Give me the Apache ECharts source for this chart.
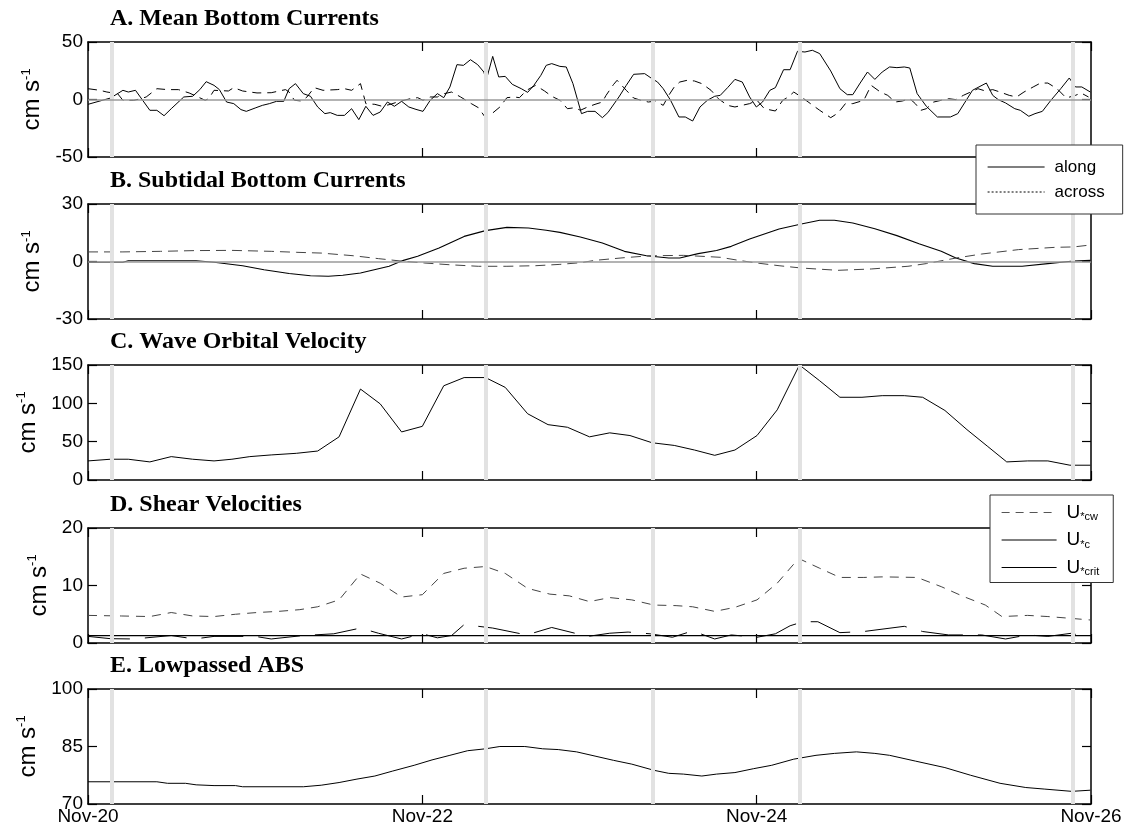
<!DOCTYPE html>
<html><head><meta charset="utf-8">
<script src="https://cdn.jsdelivr.net/npm/echarts@6/dist/echarts.min.js"></script>
<style>html,body{margin:0;padding:0;background:#fff}#c{width:1137px;height:840px}</style>
</head><body><div id="c"></div>
<script>
// ---------- DATA (x = days since Nov-20 00:00) ----------
const xTickDays = [0, 2, 4, 6];
const xTickLabels = ['Nov-20', 'Nov-22', 'Nov-24', 'Nov-26'];
const bandDays = [0.135, 2.385, 3.38, 4.26, 5.89];
const panelTitles = ['A. Mean Bottom Currents', 'B. Subtidal Bottom Currents', 'C. Wave Orbital Velocity', 'D. Shear Velocities', 'E. Lowpassed ABS'];
const yMins = [-50, -30, 0, 0, 70];
const yMaxs = [50, 30, 150, 20, 100];
const yTicksA = [-50, 0, 50];
const yTicksB = [-30, 0, 30];
const yTicksC = [0, 50, 100, 150];
const yTicksD = [0, 10, 20];
const yTicksE = [70, 85, 100];

const alongMean = [[0.000,-4.2],[0.135,1.3],[0.209,8.0],[0.241,6.5],[0.284,8.0],[0.370,-9.4],[0.412,-9.4],[0.455,-14.1],[0.498,-8.0],[0.573,2.2],[0.626,2.8],[0.669,8.6],[0.707,15.5],[0.754,12.3],[0.786,8.6],[0.829,-2.2],[0.872,-3.6],[0.915,-8.8],[0.947,-10.3],[1.000,-7.4],[1.043,-5.1],[1.085,-3.6],[1.128,-1.6],[1.171,-1.6],[1.203,9.4],[1.241,13.8],[1.288,5.1],[1.331,2.8],[1.374,-6.5],[1.417,-12.3],[1.449,-11.4],[1.491,-13.8],[1.534,-13.8],[1.577,-8.0],[1.620,-17.5],[1.662,-5.9],[1.705,-13.8],[1.748,-10.9],[1.791,-2.2],[1.833,-5.9],[1.876,-1.6],[1.919,-6.5],[1.962,-8.6],[2.004,-10.3],[2.047,-0.7],[2.090,5.1],[2.128,1.6],[2.165,10.9],[2.207,30.3],[2.246,29.7],[2.288,34.6],[2.331,30.3],[2.368,23.9],[2.382,16.7],[2.421,37.5],[2.457,19.6],[2.496,20.1],[2.538,13.2],[2.592,9.4],[2.630,6.2],[2.667,12.3],[2.709,21.0],[2.741,29.7],[2.774,31.2],[2.823,28.8],[2.861,28.3],[2.901,13.8],[2.952,-12.3],[2.989,-10.3],[3.033,-10.3],[3.077,-15.8],[3.110,-11.4],[3.176,2.2],[3.220,12.3],[3.264,21.9],[3.330,22.5],[3.374,18.1],[3.407,15.2],[3.441,9.4],[3.485,-0.7],[3.535,-15.2],[3.573,-15.2],[3.617,-18.7],[3.661,-6.5],[3.705,-0.7],[3.749,2.8],[3.782,3.6],[3.826,10.3],[3.870,17.5],[3.914,15.2],[3.958,2.2],[3.998,-6.5],[4.035,-2.2],[4.079,8.0],[4.112,10.3],[4.161,25.9],[4.200,25.9],[4.244,41.9],[4.289,41.3],[4.333,42.8],[4.377,39.9],[4.443,24.8],[4.498,9.4],[4.542,4.2],[4.575,4.2],[4.619,14.3],[4.663,23.9],[4.707,17.5],[4.751,23.9],[4.795,28.3],[4.839,27.7],[4.883,28.3],[4.916,27.4],[4.960,5.1],[5.015,-5.9],[5.081,-15.2],[5.159,-15.2],[5.203,-12.3],[5.247,-2.2],[5.291,8.0],[5.374,14.3],[5.412,3.6],[5.445,-0.1],[5.489,-3.0],[5.544,-8.0],[5.577,-9.4],[5.628,-14.6],[5.665,-12.3],[5.709,-10.3],[5.760,-0.7],[5.819,9.4],[5.870,18.7],[5.907,10.9],[5.945,10.9],[5.996,6.5]];

const acrossMean = [[0.000,9.4],[0.071,8.0],[0.113,6.5],[0.177,5.1],[0.209,-0.7],[0.274,-0.7],[0.316,0.7],[0.348,2.2],[0.412,9.4],[0.476,8.6],[0.541,8.6],[0.605,5.7],[0.637,3.6],[0.701,-0.7],[0.722,0.7],[0.754,8.0],[0.840,7.4],[0.872,10.3],[0.925,7.4],[1.011,5.7],[1.096,5.9],[1.182,8.6],[1.203,6.5],[1.235,-0.7],[1.278,-1.3],[1.310,2.2],[1.353,10.3],[1.406,8.0],[1.491,8.6],[1.534,9.4],[1.577,8.0],[1.630,13.8],[1.662,-3.6],[1.716,-4.2],[1.759,-5.9],[1.801,-4.5],[1.865,-1.6],[1.929,0.7],[1.972,1.6],[2.004,-0.7],[2.047,2.2],[2.090,2.2],[2.132,5.1],[2.175,6.5],[2.229,2.2],[2.293,-3.6],[2.335,-7.1],[2.378,-15.8],[2.421,-11.7],[2.464,-6.5],[2.506,1.6],[2.549,2.2],[2.581,1.6],[2.624,8.0],[2.677,12.3],[2.731,7.4],[2.774,2.8],[2.823,-0.7],[2.868,-8.0],[2.912,-7.1],[2.945,-9.4],[2.989,-6.5],[3.033,-4.2],[3.077,-2.2],[3.099,3.6],[3.143,12.9],[3.165,16.7],[3.220,8.0],[3.264,1.3],[3.308,-0.7],[3.352,-2.2],[3.396,-1.3],[3.441,-5.1],[3.474,3.6],[3.507,10.9],[3.540,15.2],[3.584,16.7],[3.628,16.1],[3.672,13.8],[3.727,8.0],[3.771,0.7],[3.826,-5.1],[3.870,-6.5],[3.958,-3.6],[4.002,-0.7],[4.046,-8.0],[4.112,-10.0],[4.156,-0.7],[4.189,2.2],[4.222,6.5],[4.267,2.2],[4.322,-3.6],[4.377,-9.4],[4.443,-15.8],[4.487,-11.7],[4.531,-3.6],[4.575,-3.6],[4.641,-0.7],[4.685,12.3],[4.740,6.5],[4.784,3.6],[4.828,-2.2],[4.872,-1.3],[4.916,0.7],[4.949,-3.6],[4.982,-9.4],[5.015,-8.0],[5.059,-2.2],[5.104,-0.7],[5.148,0.7],[5.192,-0.1],[5.236,3.6],[5.280,6.5],[5.324,9.4],[5.368,7.4],[5.412,8.6],[5.456,6.5],[5.511,3.6],[5.555,2.2],[5.599,6.5],[5.654,10.9],[5.698,14.3],[5.742,14.3],[5.797,9.4],[5.852,1.3],[5.907,3.6],[5.940,5.7],[5.985,2.2]];

const alongSub = [[0,-0.4],[0.209,-0.4],[0.241,0.4],[0.647,0.4],[0.754,-0.4],[0.925,-2.2],[1.053,-4.3],[1.203,-6.3],[1.331,-7.4],[1.438,-7.7],[1.524,-7.2],[1.630,-6.0],[1.801,-2.5],[1.887,0.6],[1.972,2.7],[2.100,7.0],[2.250,13.1],[2.378,16.1],[2.506,17.8],[2.635,17.5],[2.741,16.3],[2.823,15.2],[2.945,12.8],[3.077,9.7],[3.209,5.3],[3.341,3.0],[3.474,1.8],[3.540,1.8],[3.650,4.1],[3.760,5.7],[3.848,7.9],[3.958,11.7],[4.134,17.0],[4.267,19.6],[4.377,21.5],[4.465,21.5],[4.575,20.1],[4.707,17.1],[4.839,13.5],[4.971,9.3],[5.104,5.3],[5.192,1.8],[5.302,-1.1],[5.412,-2.5],[5.588,-2.5],[5.742,-1.1],[5.896,0.3],[5.996,0.6]];

const acrossSub = [[0,5.0],[0.209,5.0],[0.434,5.3],[0.647,5.7],[0.861,5.8],[1.096,5.3],[1.246,4.8],[1.395,4.4],[1.588,3.0],[1.737,1.5],[1.887,0.1],[2.015,-0.8],[2.165,-1.7],[2.335,-2.5],[2.506,-2.5],[2.677,-2.2],[2.823,-1.5],[2.950,-0.6],[3.033,0.6],[3.209,2.0],[3.363,3.0],[3.562,3.2],[3.782,2.2],[3.892,0.6],[4.002,-0.8],[4.134,-2.2],[4.267,-3.4],[4.487,-4.6],[4.685,-3.9],[4.905,-2.5],[5.015,-1.1],[5.192,1.8],[5.346,3.9],[5.566,6.2],[5.786,7.4],[5.896,7.6],[5.996,8.6]];

const waveOrbital = [[0,24.9],[0.135,27.1],[0.241,27.1],[0.370,23.6],[0.498,30.5],[0.626,27.1],[0.754,24.9],[0.861,27.1],[0.968,30.5],[1.096,32.7],[1.246,34.8],[1.374,37.8],[1.502,56.3],[1.630,118.6],[1.748,99.3],[1.876,62.7],[2.000,70.0],[2.128,122.9],[2.250,133.6],[2.378,133.6],[2.496,120.8],[2.630,86.4],[2.752,72.2],[2.868,68.8],[3.000,56.3],[3.121,61.5],[3.242,58.0],[3.374,48.6],[3.507,45.1],[3.628,39.1],[3.749,32.2],[3.870,39.1],[4.002,58.0],[4.123,91.5],[4.256,150],[4.377,129.4],[4.498,107.9],[4.630,107.9],[4.751,110.0],[4.883,110.0],[4.993,107.9],[5.126,90.7],[5.258,65.7],[5.379,44.3],[5.496,23.6],[5.621,24.9],[5.742,24.9],[5.874,19.3],[5.996,19.3]];

const uStarCW = [[0,4.8],[0.199,4.7],[0.370,4.6],[0.498,5.3],[0.626,4.7],[0.754,4.6],[0.882,5.0],[1.011,5.3],[1.139,5.5],[1.267,5.8],[1.374,6.3],[1.502,7.5],[1.630,12.0],[1.748,10.4],[1.876,8.0],[2.000,8.4],[2.128,12.1],[2.250,13.0],[2.378,13.3],[2.496,12.1],[2.630,9.5],[2.763,8.5],[2.879,8.2],[3.000,7.2],[3.121,7.9],[3.253,7.5],[3.385,6.6],[3.518,6.5],[3.617,6.3],[3.749,5.5],[3.870,6.2],[4.002,7.5],[4.123,10.4],[4.251,14.7],[4.377,13.0],[4.498,11.4],[4.641,11.4],[4.751,11.5],[4.960,11.4],[5.104,9.8],[5.236,8.1],[5.368,6.6],[5.467,4.6],[5.621,4.8],[5.742,4.6],[5.874,4.3],[5.996,4.0]];

const uStarC = [[0,1.15],[0.135,0.75],[0.274,0.7],[0.498,1.3],[0.637,0.7],[0.754,1.15],[1.000,1.15],[1.096,0.7],[1.288,1.3],[1.470,1.6],[1.630,2.6],[1.737,1.7],[1.876,0.7],[2.000,1.6],[2.090,0.9],[2.175,1.3],[2.250,3.2],[2.421,2.6],[2.624,1.4],[2.774,2.7],[2.989,1.15],[3.121,1.7],[3.231,1.9],[3.363,1.6],[3.496,1.0],[3.617,2.1],[3.749,0.7],[3.848,1.4],[4.002,1.0],[4.112,1.6],[4.200,3.0],[4.278,3.7],[4.366,3.7],[4.498,1.8],[4.641,2.0],[4.883,2.9],[4.993,2.0],[5.148,1.4],[5.346,1.4],[5.489,0.7],[5.621,1.4],[5.742,1.15],[5.885,1.7],[5.996,0.75]];

const uStarCrit = [[0,1.3],[6,1.3]];

const absLow = [[0,75.8],[0.412,75.8],[0.476,75.4],[0.583,75.4],[0.647,75.0],[0.754,74.8],[0.882,74.8],[0.925,74.5],[1.288,74.5],[1.395,74.9],[1.502,75.6],[1.609,76.5],[1.716,77.3],[1.823,78.6],[1.951,80.1],[2.058,81.5],[2.165,82.7],[2.271,83.9],[2.378,84.4],[2.464,85.0],[2.613,85.0],[2.720,84.4],[2.813,84.2],[2.923,83.6],[3.033,82.5],[3.143,81.4],[3.253,80.4],[3.385,78.8],[3.474,78.0],[3.562,77.8],[3.672,77.3],[3.760,77.8],[3.870,78.2],[3.980,79.2],[4.090,80.1],[4.222,81.7],[4.355,82.7],[4.465,83.2],[4.597,83.6],[4.707,83.2],[4.795,82.7],[4.949,81.2],[5.126,79.5],[5.280,77.5],[5.456,75.4],[5.610,74.3],[5.720,73.9],[5.885,73.3],[5.996,73.6]];

// ---------- LAYOUT / OPTION ----------
const yTicks = [yTicksA, yTicksB, yTicksC, yTicksD, yTicksE];
const gridTops = [42, 204, 365, 528, 689];
const GL = 88, GR = 46, GH = 115;
const SANS = 'Liberation Sans, Arial, sans-serif';
const SERIF = 'Liberation Serif, Times New Roman, serif';
const axisLine = { onZero: false, lineStyle: { color: '#000', width: 1.5 } };
const axisTick = { inside: true, length: 9, lineStyle: { color: '#000', width: 1.2 } };

const grids = [], xAxes = [], yAxes = [], titles = [], series = [];
for (let i = 0; i < 5; i++) {
  grids.push({ left: GL, right: GR, top: gridTops[i], height: GH });
  titles.push({ text: panelTitles[i], left: 110, top: gridTops[i] - 35, padding: 0,
    textStyle: { fontFamily: SERIF, fontWeight: 'bold', fontSize: 24, color: '#000', lineHeight: 24 } });
  const xl = {
    gridIndex: i, type: 'value', min: xTickDays[0], max: xTickDays[xTickDays.length - 1], interval: 2,
    axisLine, axisTick, splitLine: { show: false },
    axisLabel: { show: i === 4, fontFamily: SANS, fontSize: 19, color: '#000', margin: 3,
      formatter: v => { const k = xTickDays.indexOf(v); return k >= 0 ? xTickLabels[k] : ''; } }
  };
  xAxes.push(Object.assign({}, xl, { position: 'bottom' }));
  xAxes.push(Object.assign({}, xl, { position: 'top', axisLabel: { show: false } }));
  const tk = yTicks[i];
  const yl = {
    gridIndex: i, type: 'value', min: yMins[i], max: yMaxs[i],
    axisLine, splitLine: { show: false },
    axisTick: Object.assign({}, axisTick, { customValues: tk }),
    axisLabel: { customValues: tk, fontFamily: SANS, fontSize: 19, color: '#000', margin: 5 }
  };
  yAxes.push(Object.assign({}, yl, { position: 'left',
    name: '{a|cm s}{b|-1}', nameLocation: 'middle', nameRotate: 90, nameGap: 34,
    nameTextStyle: { rich: {
      a: { fontFamily: SANS, fontSize: 24, color: '#000', lineHeight: 26 },
      b: { fontFamily: SANS, fontSize: 13, color: '#000', lineHeight: 14, verticalAlign: 'top' } } } }));
  yAxes.push(Object.assign({}, yl, { position: 'right', name: '', axisLabel: { show: false } }));

  // grey event bands (+ zero line for A, B)
  const ml = bandDays.map(d => ({ xAxis: d, lineStyle: { color: '#e2e2e2', width: 4, type: 'solid' } }));
  if (i < 2) ml.push({ yAxis: 0, lineStyle: { color: '#9a9a9a', width: 1.5, type: 'solid' } });
  series.push({ type: 'line', xAxisIndex: 2 * i, yAxisIndex: 2 * i, data: [], z: 1, silent: true,
    markLine: { silent: true, symbol: ['none', 'none'], label: { show: false }, data: ml, animation: false } });
}
function ln(name, i, data, style) {
  return { name, type: 'line', xAxisIndex: 2 * i, yAxisIndex: 2 * i, data, symbol: 'none', z: 3,
    itemStyle: { color: '#000' },
    lineStyle: Object.assign({ color: '#000', width: 1 }, style) };
}
series.push(ln('along', 0, alongMean, {}));
series.push(ln('across', 0, acrossMean, { type: [9, 6] }));
series.push(ln('along', 1, alongSub, { width: 1.1 }));
series.push(ln('across', 1, acrossSub, { type: [10, 6], color: '#444' }));
series.push(ln('wave', 2, waveOrbital, {}));
series.push(ln('Ucw', 3, uStarCW, { type: [9, 7], color: '#444' }));
series.push(ln('Uc', 3, uStarC, { type: [42, 15] }));
series.push(ln('Ucrit', 3, uStarCrit, { width: 1.2 }));
series.push(ln('abs', 4, absLow, {}));

const legendText = { fontFamily: SANS, fontSize: 17, color: '#000', lineHeight: 18, padding: [0, 0, 0, 5] };
const subNames = { Ucw: '*cw', Uc: '*c', Ucrit: '*crit' };
const hideSym = { opacity: 0 };
const option = {
  animation: false,
  backgroundColor: '#fff',
  textStyle: { fontFamily: SANS },
  title: titles,
  grid: grids,
  xAxis: xAxes,
  yAxis: yAxes,
  legend: [
    { left: 976, top: 145, orient: 'vertical', selectedMode: false, z: 10,
      itemWidth: 57, itemHeight: 14, itemGap: 7, padding: [13, 18, 13, 11],
      backgroundColor: '#fff', borderColor: '#333', borderWidth: 1, borderRadius: 0,
      itemStyle: hideSym,
      textStyle: legendText,
      data: [ { name: 'along', itemStyle: hideSym, lineStyle: { color: '#000', width: 1.2, type: 'solid' } },
              { name: 'across', itemStyle: hideSym, lineStyle: { color: '#000', width: 1, type: [2, 2] } } ] },
    { left: 990, top: 495, orient: 'vertical', selectedMode: false, z: 10,
      itemWidth: 55, itemHeight: 14, itemGap: 8, padding: [8, 14, 5, 11],
      backgroundColor: '#fff', borderColor: '#333', borderWidth: 1, borderRadius: 0,
      itemStyle: hideSym,
      formatter: n => '{u|U}{s|' + subNames[n] + '}',
      textStyle: { fontFamily: SANS, color: '#000', padding: [0, 0, 0, 5],
        rich: { u: { fontFamily: SANS, fontSize: 19, color: '#000', lineHeight: 20 },
                s: { fontFamily: SANS, fontSize: 11, color: '#000', lineHeight: 11, verticalAlign: 'bottom' } } },
      data: [ { name: 'Ucw', itemStyle: hideSym, lineStyle: { color: '#555', width: 1.2, type: [8, 6] } },
              { name: 'Uc', itemStyle: hideSym, lineStyle: { color: '#000', width: 1.2, type: 'solid' } },
              { name: 'Ucrit', itemStyle: hideSym, lineStyle: { color: '#000', width: 1, type: 'solid' } } ] }
  ],
  series
};
const chart = echarts.init(document.getElementById('c'), null, { renderer: 'canvas' });
chart.setOption(option);
</script></body></html>
